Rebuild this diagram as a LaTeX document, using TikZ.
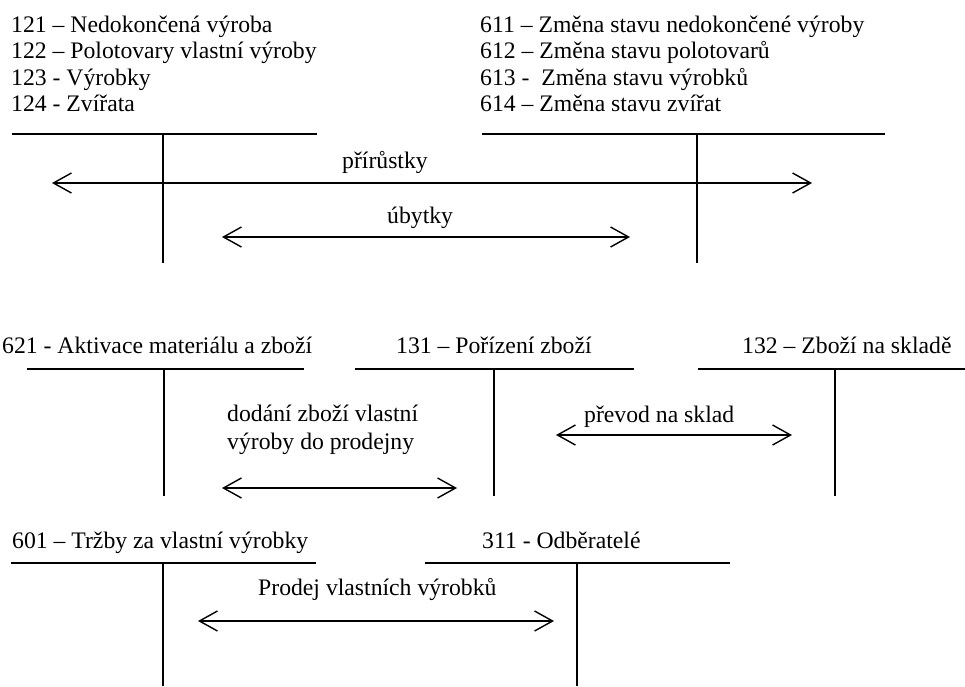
\documentclass[tikz,border=0pt]{standalone}
\usepackage{fontspec}
\setmainfont{Liberation Serif}
\usetikzlibrary{arrows.meta, calc}
\newcommand{\velky}{\fontsize{23.7pt}{26.5pt}\selectfont}
\newcommand{\tkonto}[3]{%
  \draw[tline] (#1) -- (#2);
  \draw[tline] (#1 -| #3) -- (#3);
}
\tikzset{
  tline/.style={line width=1.8pt},
  sipka/.style={line width=1.4pt, {Straight Barb[length=18pt, width=20pt]}-{Straight Barb[length=18pt, width=20pt]}},
  popis/.style={anchor=base west, inner sep=0pt, font=\velky}
}

\begin{document}
\begin{tikzpicture}[x=1pt, y=-1pt]
            \useasboundingbox (0,0) rectangle (965,686);

            % horni cast
            \node[popis] (u121) at (11,32) {121 – Nedokončená výroba};
            \node[popis] (u122) at (11,58.5) {122 – Polotovary vlastní výroby};
            \node[popis] (u123) at (11,85) {123 - Výrobky};
            \node[popis] (u124) at (11,111.5) {124 - Zvířata};
            \node[popis] (u611) at (480,32) {611 – Změna stavu nedokončené výroby};
            \node[popis] (u612) at (480,58.5) {612 – Změna stavu polotovarů};
            \node[popis] (u613) at (480,85) {613 -\ \ Změna stavu výrobků};
            \node[popis] (u614) at (480,111.5) {614 – Změna stavu zvířat};

            \coordinate (A1) at (12, 134);
            \coordinate (A2) at (317, 134);
            \coordinate (A3) at (163, 263);
            \coordinate (B1) at (482, 134);
            \coordinate (B2) at (885, 134);
            \coordinate (B3) at (697, 263);
            \tkonto{A1}{A2}{A3}
            \tkonto{B1}{B2}{B3}

            \coordinate (P1) at (52, 183);
            \coordinate (P2) at (812, 183);
            \coordinate (U1) at (222, 237);
            \coordinate (U2) at (630, 237);
            \node[popis] (prir) at (342,168) {přírůstky};
            \node[popis] (ubyt) at (387,223) {úbytky};
            \draw[sipka] (P1) -- (P2);
            \draw[sipka] (U1) -- (U2);

            % prostredni cast
            \node[popis] (u621) at (2,353) {621 - Aktivace materiálu a zboží};
            \node[popis] (u131) at (396,353) {131 – Pořízení zboží};
            \node[popis] (u132) at (742,353) {132 – Zboží na skladě};

            \coordinate (C1) at (27, 369);
            \coordinate (C2) at (304, 369);
            \coordinate (C3) at (164, 496);
            \coordinate (D1) at (355, 369);
            \coordinate (D2) at (634, 369);
            \coordinate (D3) at (494, 496);
            \coordinate (E1) at (698, 369);
            \coordinate (E2) at (965, 369);
            \coordinate (E3) at (835, 496);
            \tkonto{C1}{C2}{C3}
            \tkonto{D1}{D2}{D3}
            \tkonto{E1}{E2}{E3}

            \node[popis] (dod1) at (227,421) {dodání zboží vlastní};
            \node[popis] (dod2) at (227,449) {výroby do prodejny};
            \node[popis] (prev) at (584,422) {převod na sklad};
            \coordinate (F1) at (222, 488);
            \coordinate (F2) at (457, 488);
            \coordinate (G1) at (556, 435);
            \coordinate (G2) at (792, 435);
            \draw[sipka] (F1) -- (F2);
            \draw[sipka] (G1) -- (G2);

            % dolni cast
            \node[popis] (u601) at (12,548) {601 – Tržby za vlastní výrobky};
            \node[popis] (u311) at (482,548) {311 - Odběratelé};

            \coordinate (H1) at (11, 563);
            \coordinate (H2) at (316, 563);
            \coordinate (H3) at (163, 686);
            \coordinate (K1) at (425, 563);
            \coordinate (K2) at (730, 563);
            \coordinate (K3) at (577, 686);
            \tkonto{H1}{H2}{H3}
            \tkonto{K1}{K2}{K3}

            \node[popis] (prod) at (258,595) {Prodej vlastních výrobků};
            \coordinate (L1) at (198, 621);
            \coordinate (L2) at (554, 621);
            \draw[sipka] (L1) -- (L2);
        \end{tikzpicture}
\end{document}
